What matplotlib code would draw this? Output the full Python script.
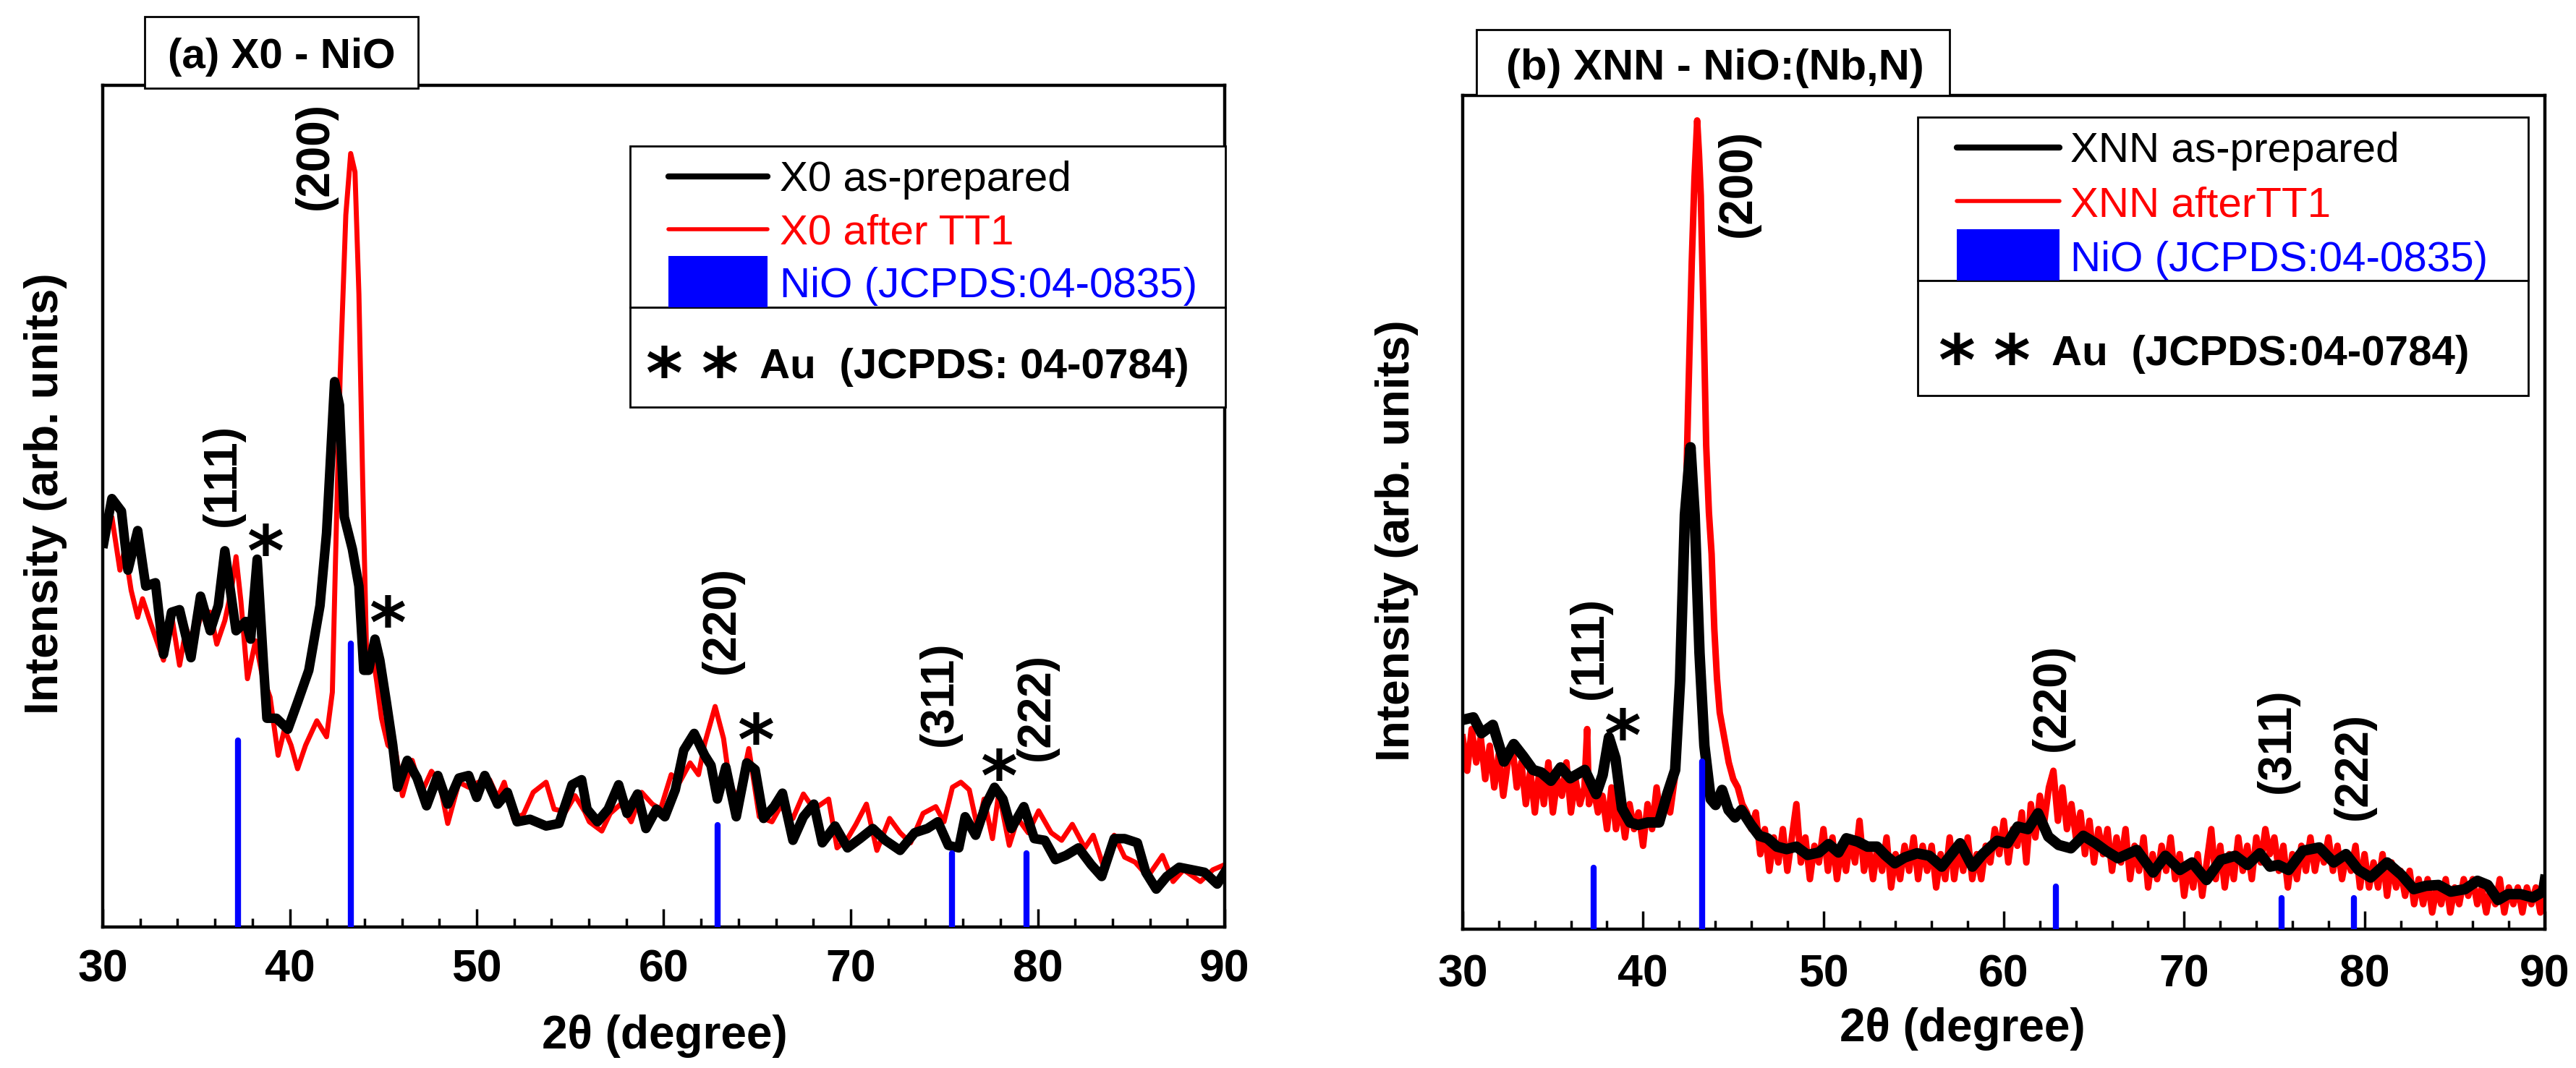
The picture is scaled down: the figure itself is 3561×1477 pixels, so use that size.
import numpy as np
import matplotlib
matplotlib.use("Agg")
import matplotlib.pyplot as plt
from matplotlib.patches import Rectangle
from matplotlib.lines import Line2D
from matplotlib.ticker import MultipleLocator

plt.rcParams['font.family'] = ['Liberation Sans', 'DejaVu Sans']

W, H = 3561, 1477

# ── data (intensity as fraction of plot height, arb. units) ────────────────

# (a) X0 as-prepared
x0_prep_2t = [30.05, 30.49, 31.0, 31.35, 31.87, 32.3, 32.82, 33.25, 33.68, 34.11,
              34.72, 35.23, 35.75, 36.18, 36.53, 37.13, 37.65, 37.91, 38.26, 38.6,
              38.78, 39.29, 39.9, 40.42, 41.02, 41.62, 41.97, 42.4, 42.66, 42.92,
              43.35, 43.7, 43.96, 44.22, 44.56, 44.82, 45.17, 45.51, 45.77, 46.29,
              46.81, 47.32, 47.92, 48.45, 49.05, 49.57, 50.0, 50.43, 51.12, 51.64,
              52.16, 52.85, 53.71, 54.4, 55.1, 55.61, 55.9, 56.46, 57.03, 57.59,
              58.04, 58.6, 59.05, 59.61, 60.06, 60.62, 61.07, 61.63, 62.19, 62.53,
              62.87, 63.32, 63.88, 64.44, 64.89, 65.34, 65.9, 66.35, 66.91, 67.47,
              68.03, 68.48, 69.16, 69.83, 70.5, 71.18, 71.85, 72.64, 73.42, 74.1,
              74.66, 75.22, 75.78, 76.12, 76.68, 77.24, 77.69, 78.14, 78.59, 79.26,
              79.82, 80.38, 80.95, 81.51, 82.18, 82.86, 83.42, 84.09, 84.65, 85.33,
              85.78, 86.34, 86.9, 87.57, 88.25, 88.92, 89.6, 90.0]
x0_prep_int = [0.456, 0.509, 0.494, 0.424, 0.471, 0.405, 0.409, 0.324, 0.374, 0.377,
               0.320, 0.393, 0.352, 0.382, 0.447, 0.352, 0.363, 0.342, 0.437, 0.311,
               0.248, 0.248, 0.235, 0.267, 0.305, 0.382, 0.468, 0.648, 0.620, 0.487,
               0.449, 0.405, 0.305, 0.305, 0.342, 0.317, 0.267, 0.216, 0.166, 0.198,
               0.177, 0.144, 0.180, 0.146, 0.177, 0.180, 0.154, 0.180, 0.146, 0.160,
               0.125, 0.128, 0.120, 0.123, 0.169, 0.175, 0.140, 0.125, 0.140, 0.169,
               0.135, 0.158, 0.117, 0.140, 0.131, 0.163, 0.210, 0.230, 0.204, 0.192,
               0.152, 0.190, 0.131, 0.195, 0.187, 0.129, 0.143, 0.159, 0.103, 0.131,
               0.146, 0.100, 0.120, 0.094, 0.105, 0.117, 0.103, 0.091, 0.112, 0.117,
               0.125, 0.097, 0.094, 0.131, 0.109, 0.146, 0.166, 0.152, 0.117, 0.143,
               0.105, 0.103, 0.080, 0.085, 0.094, 0.074, 0.060, 0.105, 0.105, 0.100,
               0.065, 0.045, 0.060, 0.071, 0.068, 0.065, 0.051, 0.065]

# (a) X0 after TT1
x0_tt1_2t = [30.05, 30.49, 30.92, 31.18, 31.52, 31.87, 32.13, 32.56, 33.25, 33.68,
             34.11, 34.46, 34.8, 35.32, 35.75, 36.1, 36.53, 36.88, 37.13, 37.39,
             37.74, 38.17, 38.52, 38.95, 39.38, 39.72, 40.07, 40.42, 40.85, 41.45,
             41.97, 42.28, 42.45, 42.7, 43.0, 43.26, 43.49, 43.7, 43.9, 44.13,
             44.39, 44.65, 44.91, 45.25, 45.68, 46.03, 46.55, 47.06, 47.58, 48.01,
             48.45, 49.05, 49.57, 50.09, 50.69, 51.12, 51.47, 51.98, 52.5, 53.02,
             53.71, 54.14, 54.75, 55.26, 55.78, 56.02, 56.69, 57.14, 57.7, 58.26,
             58.82, 59.39, 59.83, 60.4, 60.85, 61.41, 61.86, 62.19, 62.75, 63.2,
             63.54, 63.99, 64.55, 65.11, 65.79, 66.24, 66.91, 67.47, 68.03, 68.82,
             69.27, 69.83, 70.28, 70.84, 71.4, 72.08, 72.64, 73.2, 73.87, 74.55,
             74.99, 75.44, 75.89, 76.34, 76.79, 77.13, 77.58, 77.92, 78.48, 78.93,
             79.49, 80.05, 80.72, 81.28, 81.85, 82.52, 82.97, 83.53, 84.09, 84.65,
             85.21, 85.89, 86.67, 87.24, 87.8, 88.7, 89.37, 90.0]
x0_tt1_int = [0.468, 0.487, 0.424, 0.449, 0.400, 0.368, 0.390, 0.361, 0.317, 0.371,
              0.311, 0.355, 0.336, 0.374, 0.374, 0.336, 0.364, 0.400, 0.440, 0.387,
              0.295, 0.340, 0.300, 0.273, 0.204, 0.235, 0.216, 0.188, 0.216, 0.245,
              0.226, 0.279, 0.437, 0.657, 0.846, 0.919, 0.897, 0.752, 0.532, 0.305,
              0.330, 0.292, 0.248, 0.216, 0.207, 0.156, 0.198, 0.160, 0.185, 0.172,
              0.123, 0.172, 0.166, 0.172, 0.175, 0.154, 0.172, 0.128, 0.134, 0.160,
              0.172, 0.140, 0.137, 0.156, 0.137, 0.125, 0.114, 0.135, 0.146, 0.125,
              0.160, 0.146, 0.140, 0.181, 0.172, 0.195, 0.181, 0.218, 0.262, 0.224,
              0.169, 0.152, 0.212, 0.131, 0.125, 0.143, 0.129, 0.158, 0.140, 0.152,
              0.094, 0.105, 0.122, 0.146, 0.091, 0.129, 0.112, 0.100, 0.135, 0.143,
              0.125, 0.166, 0.172, 0.163, 0.117, 0.152, 0.105, 0.160, 0.097, 0.129,
              0.112, 0.138, 0.112, 0.103, 0.122, 0.094, 0.109, 0.071, 0.109, 0.083,
              0.077, 0.060, 0.085, 0.054, 0.068, 0.054, 0.068, 0.074]

# (b) XNN as-prepared
xnn_prep_2t = [30.0, 30.59, 31.04, 31.67, 32.29, 32.83, 33.37, 33.9, 34.35, 34.89,
               35.43, 35.96, 36.77, 37.4, 37.76, 38.11, 38.47, 38.83, 39.28, 39.72,
               40.26, 40.89, 41.34, 41.78, 42.05, 42.32, 42.63, 42.86, 43.13, 43.4,
               43.75, 44.02, 44.38, 44.74, 45.1, 45.45, 45.99, 46.44, 46.89, 47.42,
               47.96, 48.5, 49.12, 49.75, 50.29, 50.83, 51.27, 51.9, 52.44, 52.97,
               53.42, 53.96, 54.5, 55.19, 55.87, 56.56, 57.58, 58.26, 58.83, 59.63,
               60.2, 60.77, 61.34, 61.9, 62.47, 63.04, 63.72, 64.41, 65.09, 65.66,
               66.34, 67.37, 68.28, 68.96, 69.76, 70.44, 71.24, 72.03, 72.83, 73.51,
               74.19, 74.76, 75.22, 75.79, 76.58, 77.49, 78.29, 78.97, 79.66, 80.34,
               81.25, 82.05, 82.73, 83.41, 84.1, 84.78, 85.57, 86.26, 86.83, 87.4,
               87.96, 88.65, 89.33, 89.9, 90.0]
xnn_prep_int = [0.251, 0.254, 0.235, 0.245, 0.201, 0.222, 0.207, 0.191, 0.188, 0.178,
                0.194, 0.181, 0.191, 0.162, 0.185, 0.230, 0.205, 0.145, 0.128, 0.125,
                0.128, 0.128, 0.162, 0.191, 0.298, 0.497, 0.578, 0.497, 0.331, 0.220,
                0.156, 0.149, 0.167, 0.143, 0.134, 0.143, 0.125, 0.112, 0.109, 0.099,
                0.096, 0.099, 0.089, 0.092, 0.102, 0.092, 0.109, 0.105, 0.099, 0.099,
                0.089, 0.079, 0.086, 0.091, 0.088, 0.075, 0.103, 0.075, 0.090, 0.106,
                0.103, 0.123, 0.120, 0.139, 0.111, 0.101, 0.097, 0.112, 0.103, 0.094,
                0.085, 0.095, 0.068, 0.088, 0.071, 0.080, 0.059, 0.083, 0.088, 0.077,
                0.091, 0.075, 0.077, 0.071, 0.094, 0.098, 0.080, 0.090, 0.071, 0.062,
                0.080, 0.065, 0.048, 0.052, 0.053, 0.045, 0.048, 0.058, 0.053, 0.035,
                0.042, 0.042, 0.038, 0.045, 0.059]

# (b) XNN after TT1 (noisy scan)
xnn_tt1_2t = [30.0, 30.25, 30.5, 30.75, 31.0, 31.25, 31.5, 31.75, 32.0, 32.25,
              32.5, 32.75, 33.0, 33.25, 33.5, 33.75, 34.0, 34.25, 34.5, 34.75,
              35.0, 35.25, 35.5, 35.75, 36.0, 36.25, 36.5, 36.75, 36.9, 37.0,
              37.25, 37.5, 37.75, 38.0, 38.25, 38.5, 38.75, 39.0, 39.25, 39.5,
              39.75, 40.0, 40.25, 40.5, 40.75, 41.0, 41.25, 41.5, 41.75, 42.0,
              42.25, 42.5, 42.7, 42.85, 43.0, 43.1, 43.2, 43.35, 43.5, 43.65,
              43.8, 43.95, 44.1, 44.25, 44.5, 44.75, 45.0, 45.25, 45.5, 45.75,
              46.0, 46.25, 46.5, 46.75, 47.0, 47.25, 47.5, 47.75, 48.0, 48.25,
              48.5, 48.75, 49.0, 49.25, 49.5, 49.75, 50.0, 50.25, 50.5, 50.75,
              51.0, 51.25, 51.5, 51.75, 52.0, 52.25, 52.5, 52.75, 53.0, 53.25,
              53.5, 53.75, 54.0, 54.25, 54.5, 54.75, 55.0, 55.25, 55.5, 55.75,
              56.0, 56.25, 56.5, 56.75, 57.0, 57.25, 57.5, 57.75, 58.0, 58.25,
              58.5, 58.75, 59.0, 59.25, 59.5, 59.75, 60.0, 60.25, 60.5, 60.75,
              61.0, 61.25, 61.5, 61.75, 62.0, 62.25, 62.5, 62.75, 63.0, 63.25,
              63.5, 63.75, 64.0, 64.25, 64.5, 64.75, 65.0, 65.25, 65.5, 65.75,
              66.0, 66.25, 66.5, 66.75, 67.0, 67.25, 67.5, 67.75, 68.0, 68.25,
              68.5, 68.75, 69.0, 69.25, 69.5, 69.75, 70.0, 70.25, 70.5, 70.75,
              71.0, 71.25, 71.5, 71.75, 72.0, 72.25, 72.5, 72.75, 73.0, 73.25,
              73.5, 73.75, 74.0, 74.25, 74.5, 74.75, 75.0, 75.25, 75.5, 75.75,
              76.0, 76.25, 76.5, 76.75, 77.0, 77.25, 77.5, 77.75, 78.0, 78.25,
              78.5, 78.75, 79.0, 79.25, 79.5, 79.75, 80.0, 80.25, 80.5, 80.75,
              81.0, 81.25, 81.5, 81.75, 82.0, 82.25, 82.5, 82.75, 83.0, 83.25,
              83.5, 83.75, 84.0, 84.25, 84.5, 84.75, 85.0, 85.25, 85.5, 85.75,
              86.0, 86.25, 86.5, 86.75, 87.0, 87.25, 87.5, 87.75, 88.0, 88.25,
              88.5, 88.75, 89.0, 89.25, 89.5, 89.75, 90.0]
xnn_tt1_int = [0.23, 0.19, 0.24, 0.20, 0.23, 0.18, 0.22, 0.17, 0.21, 0.16,
               0.20, 0.22, 0.17, 0.20, 0.15, 0.19, 0.14, 0.19, 0.15, 0.20,
               0.14, 0.18, 0.16, 0.20, 0.14, 0.18, 0.15, 0.17, 0.24, 0.15,
               0.17, 0.14, 0.16, 0.12, 0.17, 0.12, 0.15, 0.11, 0.15, 0.12,
               0.14, 0.10, 0.15, 0.12, 0.17, 0.13, 0.16, 0.14, 0.18, 0.25,
               0.40, 0.63, 0.80, 0.90, 0.97, 0.93, 0.88, 0.74, 0.58, 0.50,
               0.45, 0.36, 0.30, 0.26, 0.23, 0.20, 0.18, 0.17, 0.15, 0.14,
               0.12, 0.14, 0.09, 0.12, 0.07, 0.11, 0.08, 0.12, 0.07, 0.11,
               0.15, 0.08, 0.11, 0.06, 0.10, 0.08, 0.12, 0.07, 0.11, 0.06,
               0.10, 0.07, 0.11, 0.08, 0.13, 0.07, 0.10, 0.06, 0.10, 0.07,
               0.11, 0.05, 0.09, 0.06, 0.10, 0.07, 0.11, 0.06, 0.10, 0.07,
               0.10, 0.05, 0.09, 0.06, 0.11, 0.06, 0.10, 0.07, 0.11, 0.06,
               0.09, 0.06, 0.10, 0.08, 0.12, 0.09, 0.13, 0.08, 0.12, 0.10,
               0.14, 0.08, 0.15, 0.11, 0.16, 0.13, 0.17, 0.19, 0.13, 0.17,
               0.12, 0.15, 0.11, 0.14, 0.09, 0.13, 0.08, 0.12, 0.09, 0.12,
               0.07, 0.11, 0.08, 0.12, 0.06, 0.10, 0.07, 0.11, 0.05, 0.09,
               0.06, 0.10, 0.07, 0.11, 0.06, 0.09, 0.04, 0.08, 0.05, 0.09,
               0.04, 0.08, 0.12, 0.06, 0.10, 0.05, 0.09, 0.06, 0.11, 0.07,
               0.10, 0.06, 0.11, 0.08, 0.12, 0.09, 0.11, 0.07, 0.10, 0.05,
               0.09, 0.06, 0.10, 0.07, 0.11, 0.07, 0.10, 0.08, 0.11, 0.07,
               0.10, 0.06, 0.09, 0.07, 0.10, 0.05, 0.09, 0.05, 0.08, 0.05,
               0.09, 0.04, 0.08, 0.05, 0.07, 0.04, 0.07, 0.03, 0.06, 0.03,
               0.06, 0.02, 0.05, 0.03, 0.06, 0.02, 0.05, 0.03, 0.06, 0.04,
               0.06, 0.03, 0.05, 0.02, 0.05, 0.03, 0.06, 0.02, 0.05, 0.03,
               0.05, 0.02, 0.05, 0.03, 0.05, 0.02, 0.06]

# NiO reference lines, JCPDS 04-0835
nio_2t = [37.25, 43.28, 62.88, 75.42, 79.41]
nio_a_int = [0.222, 0.337, 0.121, 0.088, 0.088]
nio_b_int = [0.074, 0.201, 0.051, 0.037, 0.037]

# peak labels: (text, 2theta, height)
hkl_a = [("(200)", 41.37, 0.916), ("(111)", 36.42, 0.537), ("(220)", 63.1, 0.365),
         ("(311)", 74.76, 0.277), ("(222)", 79.94, 0.262)]
hkl_b = [("(200)", 45.28, 0.895), ("(111)", 37.04, 0.337), ("(220)", 62.7, 0.278),
         ("(311)", 75.17, 0.226), ("(222)", 79.42, 0.196)]
au_a = [(38.67, 0.468), (45.24, 0.383), (64.9, 0.244), (77.92, 0.201)]
au_b = [(38.83, 0.254)]


# ── helpers ────────────────────────────────────────────────────────────────

def fx(px):
    return px / W


def fy(py):
    return 1 - py / H


STAR_SIZE = 70
STAR_SHIFT = 0.33 * STAR_SIZE          # points, glyph sits above the text centre


def star(ax, x, y):
    ax.annotate("*", xy=(x, y), xytext=(0, -STAR_SHIFT), textcoords="offset points",
                ha="center", va="center", fontsize=STAR_SIZE, fontweight="bold",
                family="DejaVu Sans")


def panel(ax, prep, tt1, nio_int, hkl, stars, prep_lw, tt1_lw):
    ax.plot(*tt1, color="red", lw=tt1_lw, zorder=2, solid_joinstyle="round")
    ax.plot(*prep, color="black", lw=prep_lw, zorder=3, solid_joinstyle="round")
    ax.vlines(nio_2t, 0, nio_int, color="blue", lw=6, capstyle="round", zorder=4)
    ax.set_xlim(30, 90)
    ax.set_ylim(0, 1)
    ax.set_yticks([])
    ax.set_xticks(range(30, 91, 10))
    ax.xaxis.set_minor_locator(MultipleLocator(2))
    ax.tick_params(axis="x", which="major", direction="in", length=18, width=2.5,
                   labelsize=45, top=False)
    ax.tick_params(axis="x", which="minor", direction="in", length=9, width=2.5, top=False)
    for lbl in ax.get_xticklabels():
        lbl.set_fontweight("bold")
    for s in ax.spines.values():
        s.set_linewidth(3.2)
    for txt, x, y in hkl:
        ax.text(x, y, txt, rotation=90, ha="center", va="center",
                fontsize=46, fontweight="bold")
    for x, y in stars:
        star(ax, x, y)


def box(fig, x0, y0, x1, y1, lw=2.0):
    fig.add_artist(Rectangle((fx(x0), fy(y1)), fx(x1) - fx(x0), fy(y0) - fy(y1),
                             transform=fig.transFigure, facecolor="white",
                             edgecolor="black", lw=lw, zorder=5))


def legend(fig, x0, x1, y0, ymid, y1, hx0, hx1, rows, tx, au_stars, au_x, au_base, au_text):
    box(fig, x0, y0, x1, ymid)
    box(fig, x0, ymid, x1, y1)
    (y_blk, b_blk, lbl_blk), (y_red, b_red, lbl_red), (yb0, b_blue, lbl_blue) = rows
    fig.add_artist(Line2D([fx(hx0), fx(hx1)], [fy(y_blk)] * 2, color="black", lw=6,
                          solid_capstyle="round", transform=fig.transFigure, zorder=6))
    fig.add_artist(Line2D([fx(hx0), fx(hx1)], [fy(y_red)] * 2, color="red", lw=4,
                          solid_capstyle="round", transform=fig.transFigure, zorder=6))
    fig.add_artist(Rectangle((fx(hx0), fy(ymid)), fx(hx1) - fx(hx0), fy(yb0) - fy(ymid),
                             transform=fig.transFigure, facecolor="blue",
                             edgecolor="none", zorder=6))
    fig.text(fx(tx), fy(b_blk), lbl_blk, color="black", fontsize=42, va="baseline", zorder=7)
    fig.text(fx(tx), fy(b_red), lbl_red, color="red", fontsize=42, va="baseline", zorder=7)
    fig.text(fx(tx), fy(b_blue), lbl_blue, color="blue", fontsize=42, va="baseline", zorder=7)
    shift_px = STAR_SHIFT * 100 / 72
    for sx, sy in au_stars:
        fig.text(fx(sx), fy(sy + shift_px), "*", ha="center", va="center",
                 fontsize=STAR_SIZE, fontweight="bold", family="DejaVu Sans", zorder=7)
    fig.text(fx(au_x), fy(au_base), au_text, fontsize=42, fontweight="bold",
             va="baseline", zorder=7)


# ── figure ─────────────────────────────────────────────────────────────────

fig = plt.figure(figsize=(W / 100, H / 100), dpi=100)
fig.patch.set_facecolor("white")

ax_a = fig.add_axes([fx(142), fy(1282), fx(1693) - fx(142), fy(118) - fy(1282)])
ax_b = fig.add_axes([fx(2022), fy(1285), fx(3518) - fx(2022), fy(132) - fy(1285)])

panel(ax_a, (x0_prep_2t, x0_prep_int), (x0_tt1_2t, x0_tt1_int), nio_a_int, hkl_a, au_a,
      prep_lw=9.5, tt1_lw=5.0)
panel(ax_b, (xnn_prep_2t, xnn_prep_int), (xnn_tt1_2t, xnn_tt1_int), nio_b_int, hkl_b, au_b,
      prep_lw=10.5, tt1_lw=6.5)
ax_a.tick_params(axis="x", which="major", pad=21)
ax_b.tick_params(axis="x", which="major", pad=24)

# axis labels
fig.text(fx(63), fy(683), "Intensity (arb. units)", rotation=90, ha="center", va="center",
         fontsize=46, fontweight="bold")
fig.text(fx(1931), fy(748), "Intensity (arb. units)", rotation=90, ha="center", va="center",
         fontsize=46, fontweight="bold")
fig.text(fx(919), fy(1433), "2θ (degree)", ha="center", va="center",
         fontsize=46, fontweight="bold")
fig.text(fx(2713), fy(1423), "2θ (degree)", ha="center", va="center",
         fontsize=46, fontweight="bold")

# panel titles
box(fig, 200, 23, 578, 122)
fig.text(fx(389), fy(94), "(a) X0 - NiO", ha="center", va="baseline",
         fontsize=42, fontweight="bold", zorder=7)
box(fig, 2041, 41, 2695, 132)
fig.text(fx(2371), fy(110), "(b) XNN - NiO:(Nb,N)", ha="center", va="baseline",
         fontsize=43, fontweight="bold", zorder=7)

# legends
legend(fig, 871, 1694, 202, 425, 563, 924, 1061,
       [(244, 264, "X0 as-prepared"), (317, 337, "X0 after TT1"),
        (354, 411, "NiO (JCPDS:04-0835)")],
       1078, [(918, 491), (995, 491)], 1050, 523, "Au  (JCPDS: 04-0784)")
legend(fig, 2651, 3495, 162, 388, 547, 2705, 2847,
       [(204, 224, "XNN as-prepared"), (278, 300, "XNN afterTT1"),
        (317, 375, "NiO (JCPDS:04-0835)")],
       2862, [(2705, 473), (2781, 473)], 2836, 505, "Au  (JCPDS:04-0784)")

fig.savefig("out.png", dpi=100)
